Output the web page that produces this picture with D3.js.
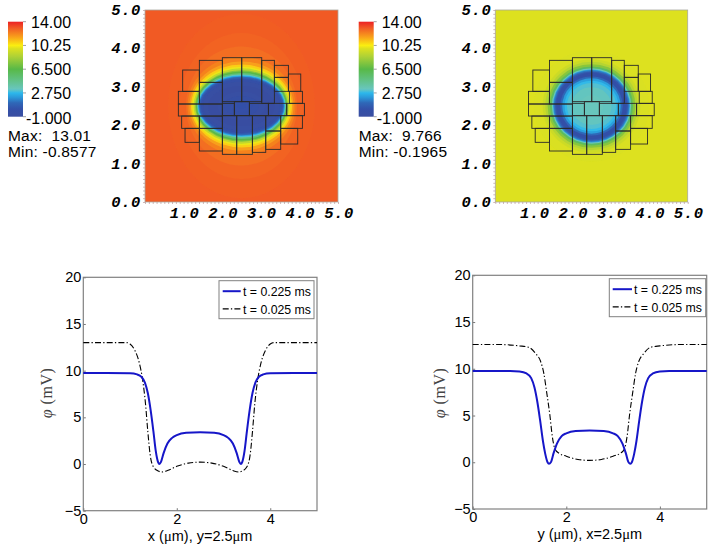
<!DOCTYPE html>
<html><head><meta charset="utf-8">
<script src="https://cdn.jsdelivr.net/npm/d3@7"></script>
<style>html,body{margin:0;padding:0;background:#fff}svg{display:block}text{font-family:"Liberation Sans",sans-serif;fill:#000}</style>
</head><body><div id="c"></div>
<script>
// colour map stops
const cmapValues=[-1,0.2,1.2,2,2.75,3.1,3.4,4.6,6.5,8.5,9.77,10.25,11.5,13,14];
const cmapColors=["#3a4ea0","#3350a8","#2f68b8","#2b96d8","#2cb8ec","#52c0d0","#68c6bc","#62c28c","#58b947","#aed136","#dde11f","#fbee10","#f9a51a","#f15a24","#ec2024"];
// left field: contour value, half-width and half-height (um)
const fieldA_v=[12.95,12.8,12.6,12.2,11.6,10.8,10,9,7.5,6.5,5,3.5,2.75,2,1.2,0.5,0,-0.5,-0.85,-0.6,-0.3,0,0.2];
const fieldA_x=[1.9,1.6,1.44,1.4,1.35,1.31,1.27,1.24,1.2,1.18,1.16,1.14,1.13,1.12,1.1,1.08,1.05,1,0.86,0.62,0.45,0.28,0.1];
const fieldA_y=[2.4,1.9,1.55,1.28,1.16,1.08,1.02,0.98,0.93,0.9,0.86,0.82,0.8,0.78,0.76,0.73,0.7,0.64,0.52,0.38,0.26,0.16,0.06];
const backgroundA=13;
// right field
const fieldB_v=[9.7,9.3,8.7,7.6,5.8,3.5,2.2,1.4,0.6,0.2,0,0.2,1.2,2.2,2.8,3.1,3.35,3.4];
const fieldB_x=[1.5,1.27,1.2,1.14,1.08,1.03,1.0,0.98,0.95,0.92,0.88,0.85,0.81,0.76,0.7,0.64,0.52,0.3];
const fieldB_y=[1.45,1.22,1.15,1.09,1.03,0.98,0.95,0.93,0.9,0.87,0.84,0.81,0.77,0.72,0.66,0.6,0.49,0.28];
const backgroundB=9.766;
// mesh cells [x0,x1,y0,y1] um
const meshCells=[
[1.408,2.004,3.116,3.689],[2.004,2.506,2.613,3.758],[2.506,3.024,2.613,3.758],[3.024,3.352,2.569,3.689],
[3.352,3.715,3.246,3.559],[3.352,3.715,2.882,3.246],[3.715,4.035,2.882,3.333],[3.741,4.078,2.569,2.882],
[0.976,1.408,2.882,3.437],[0.864,1.408,2.552,2.882],[0.864,2.004,2.239,2.552],[0.950,1.408,1.918,2.239],[1.037,1.408,1.554,1.918],
[1.408,2.004,2.552,3.116],[1.408,2.004,1.918,2.239],[1.408,2.004,1.328,1.918],
[2.004,2.315,2.248,2.569],[2.315,2.704,2.248,2.613],[2.704,3.197,2.248,2.569],[3.197,3.672,2.248,2.569],[3.672,4.130,2.248,2.569],
[2.004,2.376,1.241,2.248],[2.376,2.782,1.241,2.248],[2.782,3.128,1.293,2.248],[3.128,3.516,1.849,2.248],[3.128,3.516,1.371,1.849],
[3.516,4.078,1.918,2.248],[3.516,3.957,1.510,1.918]];
// profiles
const xPos1=[0,0.5,1,1.15,1.25,1.32,1.38,1.44,1.5,1.55,1.6,1.63,1.66,1.72,1.8,1.9,2,2.2,2.5,2.8,3,3.1,3.2,3.28,3.34,3.37,3.4,3.45,3.5,3.56,3.62,3.68,3.75,3.85,4,4.5,5];
const blue1=[9.76,9.76,9.72,9.6,9.3,8.7,7.6,5.8,3.5,1.4,0.2,0,0.2,1.2,2.2,2.8,3.1,3.35,3.4,3.35,3.1,2.8,2.2,1.2,0.2,0,0.2,1.4,3.5,5.8,7.6,8.7,9.3,9.6,9.72,9.76,9.76];
const xPos1b=[0,0.5,0.93,1,1.1,1.2,1.27,1.33,1.38,1.43,1.5,1.6,1.68,1.8,2,2.25,2.5,2.75,3,3.2,3.32,3.4,3.5,3.57,3.62,3.67,3.73,3.8,3.9,4,4.07,4.5,5];
const black1=[13,13,13,12.85,12.2,10.8,9,6.5,3.5,1,-0.3,-0.75,-0.85,-0.7,-0.25,0.1,0.2,0.1,-0.25,-0.7,-0.85,-0.75,-0.3,1,3.5,6.5,9,10.8,12.2,12.85,13,13,13];
const xPos2=[0,0.8,1,1.15,1.25,1.32,1.38,1.44,1.5,1.55,1.6,1.63,1.67,1.73,1.8,1.9,2,2.2,2.5,2.8,3,3.1,3.2,3.27,3.33,3.37,3.4,3.45,3.5,3.56,3.62,3.68,3.75,3.85,4,4.2,5];
const blue2=[9.75,9.75,9.7,9.5,9,8,6.5,4.5,2.3,0.9,0,-0.15,0,1,2,2.8,3.1,3.35,3.4,3.35,3.1,2.8,2,1,0,-0.15,0,0.9,2.3,4.5,6.5,8,9,9.5,9.7,9.75,9.75];
const xPos2b=[0,0.5,1,1.2,1.35,1.45,1.52,1.58,1.65,1.7,1.76,1.85,2,2.25,2.5,2.75,3,3.15,3.24,3.3,3.35,3.42,3.48,3.55,3.65,3.8,4,4.5,5];
const black2=[12.6,12.6,12.45,12.3,11.6,10.8,9.5,7.5,5,2.8,1.4,0.95,0.65,0.3,0.2,0.3,0.65,0.95,1.4,2.8,5,7.5,9.5,10.8,11.6,12.3,12.45,12.6,12.6];
const heatTicks=[0,1,2,3,4,5];
const barTicks=["14.00","10.25","6.500","2.750","-1.000"];
const yTicks=[-5,0,5,10,15,20];
const xTicks=[0,2,4];
const legendLabels=["t = 0.225 ms","t = 0.025 ms"];

const svg=d3.select("#c").append("svg").attr("width",714).attr("height",550);
const color=d3.scaleLinear().domain(cmapValues).range(cmapColors).clamp(true);
const defs=svg.append("defs");
defs.append("filter").attr("id","blur").attr("x","-5%").attr("y","-5%").attr("width","110%").attr("height","110%")
  .append("feGaussianBlur").attr("stdDeviation",0.55);
const bg=defs.append("linearGradient").attr("id","bar").attr("x1",0).attr("x2",0).attr("y1",1).attr("y2",0);
cmapValues.forEach((v,i)=>bg.append("stop").attr("offset",(v+1)/15).attr("stop-color",cmapColors[i]));

function heat(id,x0,x1,y0,y1,back,V,RX,RY,barDx,maxT,minT){
  const x=d3.scaleLinear().domain([0,5]).range([x0,x1]);
  const y=d3.scaleLinear().domain([0,5]).range([y1,y0]);
  defs.append("clipPath").attr("id",id).append("rect").attr("x",x0).attr("y",y0).attr("width",x1-x0).attr("height",y1-y0);
  const g=svg.append("g").attr("clip-path",`url(#${id})`);
  g.append("rect").attr("x",x0-5).attr("y",y0-5).attr("width",x1-x0+10).attr("height",y1-y0+10).attr("fill",color(back));
  const r=g.append("g").attr("filter","url(#blur)");
  r.selectAll("ellipse").data(V).join("ellipse")
   .attr("cx",x(2.5)).attr("cy",y(2.5))
   .attr("rx",(d,i)=>x(RX[i])-x(0)).attr("ry",(d,i)=>y(0)-y(RY[i]))
   .attr("fill",d=>color(d));
  svg.append("g").selectAll("rect").data(meshCells).join("rect")
   .attr("x",d=>x(d[0])).attr("width",d=>x(d[1])-x(d[0]))
   .attr("y",d=>y(d[3])).attr("height",d=>y(d[2])-y(d[3]))
   .attr("fill","none").attr("stroke","#2a2a2a").attr("stroke-width",0.9);
  svg.append("rect").attr("x",x0).attr("y",y0).attr("width",x1-x0).attr("height",y1-y0).attr("fill","none").attr("stroke","#a8a8a0").attr("stroke-width",0.8);
  // minor ticks
  const minor=d3.range(0,51).map(d=>d/10);
  const mx=svg.append("g").attr("transform",`translate(0,${y1})`).call(d3.axisBottom(x).tickValues(minor).tickSize(2).tickFormat(""));
  const my=svg.append("g").attr("transform",`translate(${x0},0)`).call(d3.axisLeft(y).tickValues(minor).tickSize(2).tickFormat(""));
  [mx,my].forEach(a=>{a.select(".domain").remove();a.selectAll("line").attr("stroke","#b89a9a").attr("stroke-width",0.7)});
  const fmt=d3.format(".1f");
  const lab=s=>s.attr("font-family","Liberation Mono").attr("font-weight","bold").attr("font-style","italic").attr("font-size",15.5).attr("letter-spacing",0.6);
  svg.append("g").selectAll("text").data(heatTicks).join("text").call(lab)
    .attr("x",x0-4).attr("y",d=>y(d)+5).attr("text-anchor","end").style("font-family","Liberation Mono").text(fmt);
  svg.append("g").selectAll("text").data(heatTicks.slice(1)).join("text").call(lab)
    .attr("x",d=>x(d)+1).attr("y",y1+16).attr("text-anchor","middle").style("font-family","Liberation Mono").text(fmt);
  // colour bar
  const by=d3.scaleLinear().domain([-1,14]).range([116.7,21.7]);
  svg.append("rect").attr("x",8+barDx).attr("y",by(14)).attr("width",15).attr("height",by(-1)-by(14)).attr("fill","url(#bar)");
  svg.append("g").selectAll("text").data(barTicks).join("text")
    .attr("x",(d,i)=>(i==4?26:31)+barDx).attr("y",(d,i)=>by(14-i*3.75)+6+(i==4?1:0))
    .attr("font-size",16).text(d=>d);
  svg.append("g").selectAll("line").data(barTicks).join("line")
    .attr("x1",23+barDx).attr("x2",26+barDx).attr("y1",(d,i)=>by(14-i*3.75)).attr("y2",(d,i)=>by(14-i*3.75)).attr("stroke","#777").attr("stroke-width",0.7);
  svg.append("text").attr("x",8+barDx).attr("y",141).attr("font-size",15.5).attr("letter-spacing",0.2).text(maxT);
  svg.append("text").attr("x",8+barDx).attr("y",157).attr("font-size",15.5).attr("letter-spacing",0.2).text(minT);
}
heat("ca",145,338,10,202,backgroundA,fieldA_v,fieldA_x,fieldA_y,0,"Max:\u00a0 13.01","Min: -0.8577");
heat("cb",495.3,687.7,10,202,backgroundB,fieldB_v,fieldB_x,fieldB_y,350.7,"Max:\u00a0 9.766","Min: -0.1965");

function plot(x0,x1,y0,y1,bx,bv,kx,kv,axisName,rest,phiX,legX0,legX1,legY,lineX0,lineX1,textX){
  const x=d3.scaleLinear().domain([0,5]).range([x0,x1]);
  const y=d3.scaleLinear().domain([-5,20]).range([y1,y0]);
  const line=(X,V)=>d3.line().x((d,i)=>x(X[i])).y(d=>y(d)).curve(d3.curveMonotoneX)(V);
  const ax=svg.append("g").attr("transform",`translate(0,${y1})`).call(d3.axisBottom(x).tickValues(xTicks).tickSize(-2.5).tickPadding(3).tickFormat(d3.format("d")));
  const ay=svg.append("g").attr("transform",`translate(${x0},0)`).call(d3.axisLeft(y).tickValues(yTicks).tickSize(-2.5).tickPadding(2).tickFormat(d3.format("d")));
  [ax,ay].forEach(a=>{
    a.select(".domain").remove();
    a.selectAll("line").attr("stroke","#777");
    a.selectAll("text").attr("font-size",14.5).attr("font-family","Liberation Sans").attr("fill","#000");
  });
  ay.selectAll("text").text(d=>d<0?"\u2212"+(-d):d);
  svg.append("rect").attr("x",x0).attr("y",y0).attr("width",x1-x0).attr("height",y1-y0).attr("fill","none").attr("stroke","#808080").attr("stroke-width",1.2);
  svg.append("path").attr("d",line(kx,kv)).attr("fill","none").attr("stroke","#000").attr("stroke-width",1.1).attr("stroke-dasharray","6,2.2,1.3,2.2");
  svg.append("path").attr("d",line(bx,bv)).attr("fill","none").attr("stroke","#1616c8").attr("stroke-width",2);
  // labels
  const t=svg.append("text").attr("x",(x0+x1)/2).attr("y",y1+30).attr("text-anchor","middle").attr("font-size",14.5);
  t.append("tspan").text(axisName+" (");
  t.append("tspan").attr("font-family","Liberation Serif").text("\u03bc");
  t.append("tspan").text("m), "+rest+"2.5");
  t.append("tspan").attr("font-family","Liberation Serif").text("\u03bc");
  t.append("tspan").text("m");
  const p=svg.append("text").attr("transform",`translate(${phiX},393) rotate(-90)`).attr("text-anchor","middle").attr("font-size",16).attr("letter-spacing",0.5).style("font-family","Liberation Serif").style("fill","#444");
  p.append("tspan").attr("font-style","italic").text("\u03c6");
  p.append("tspan").text(" (mV)");
  // legend
  svg.append("rect").attr("x",legX0).attr("y",legY).attr("width",legX1-legX0).attr("height",38).attr("fill","#fff").attr("stroke","#808080").attr("stroke-width",1);
  legendLabels.forEach((s,i)=>{
    const yy=legY+10.5+i*17.7;
    svg.append("line").attr("x1",lineX0).attr("x2",lineX1).attr("y1",yy).attr("y2",yy)
      .attr("stroke",i?"#000":"#1616c8").attr("stroke-width",i?1.1:2).attr("stroke-dasharray",i?"6,2.2,1.3,2.2":null);
    svg.append("text").attr("x",textX).attr("y",yy+5).attr("font-size",13.5).attr("textLength",68).attr("lengthAdjust","spacingAndGlyphs").text(s);
  });
}
plot(83.3,317,277.3,510.7,xPos1,blue1,xPos1b,black1,"x","y=",52,219,314,280.7,222.7,240.7,243);
plot(472.7,706.7,275.3,509,xPos2,blue2,xPos2b,black2,"y","x=",445,609.3,705.7,278.7,612.7,632,634);
</script></body></html>
